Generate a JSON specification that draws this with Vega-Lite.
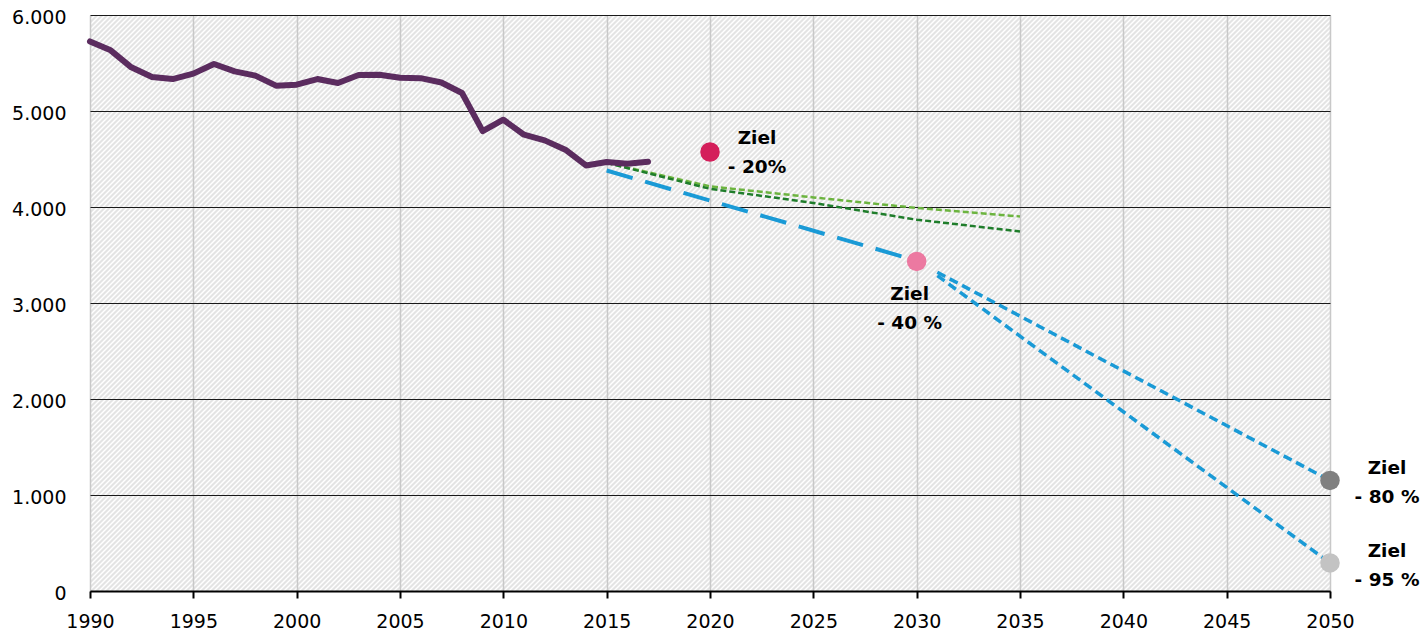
{
"$schema": "https://vega.github.io/schema/vega-lite/v6.json",
"width": 1240, "height": 576,
"autosize": {"type": "none"},
"padding": {"left": 90, "top": 15, "right": 91, "bottom": 42},
"background": "#ffffff",
"config": {
"view": {"stroke": null, "fill": {"gradient": "linear", "x1": 0, "y1": 0, "x2": 1.326646, "y2": 0.616248, "stops": [
{"offset":0.00,"color":"#fff"},{"offset":0.00125,"color":"#ddd"},{"offset":0.0025,"color":"#fff"},{"offset":0.00375,"color":"#ddd"},{"offset":0.005,"color":"#fff"},{"offset":0.00625,"color":"#ddd"},{"offset":0.0075,"color":"#fff"},{"offset":0.00875,"color":"#ddd"},
{"offset":0.01,"color":"#fff"},{"offset":0.01125,"color":"#ddd"},{"offset":0.0125,"color":"#fff"},{"offset":0.01375,"color":"#ddd"},{"offset":0.015,"color":"#fff"},{"offset":0.01625,"color":"#ddd"},{"offset":0.0175,"color":"#fff"},{"offset":0.01875,"color":"#ddd"},
{"offset":0.02,"color":"#fff"},{"offset":0.02125,"color":"#ddd"},{"offset":0.0225,"color":"#fff"},{"offset":0.02375,"color":"#ddd"},{"offset":0.025,"color":"#fff"},{"offset":0.02625,"color":"#ddd"},{"offset":0.0275,"color":"#fff"},{"offset":0.02875,"color":"#ddd"},
{"offset":0.03,"color":"#fff"},{"offset":0.03125,"color":"#ddd"},{"offset":0.0325,"color":"#fff"},{"offset":0.03375,"color":"#ddd"},{"offset":0.035,"color":"#fff"},{"offset":0.03625,"color":"#ddd"},{"offset":0.0375,"color":"#fff"},{"offset":0.03875,"color":"#ddd"},
{"offset":0.04,"color":"#fff"},{"offset":0.04125,"color":"#ddd"},{"offset":0.0425,"color":"#fff"},{"offset":0.04375,"color":"#ddd"},{"offset":0.045,"color":"#fff"},{"offset":0.04625,"color":"#ddd"},{"offset":0.0475,"color":"#fff"},{"offset":0.04875,"color":"#ddd"},
{"offset":0.05,"color":"#fff"},{"offset":0.05125,"color":"#ddd"},{"offset":0.0525,"color":"#fff"},{"offset":0.05375,"color":"#ddd"},{"offset":0.055,"color":"#fff"},{"offset":0.05625,"color":"#ddd"},{"offset":0.0575,"color":"#fff"},{"offset":0.05875,"color":"#ddd"},
{"offset":0.06,"color":"#fff"},{"offset":0.06125,"color":"#ddd"},{"offset":0.0625,"color":"#fff"},{"offset":0.06375,"color":"#ddd"},{"offset":0.065,"color":"#fff"},{"offset":0.06625,"color":"#ddd"},{"offset":0.0675,"color":"#fff"},{"offset":0.06875,"color":"#ddd"},
{"offset":0.07,"color":"#fff"},{"offset":0.07125,"color":"#ddd"},{"offset":0.0725,"color":"#fff"},{"offset":0.07375,"color":"#ddd"},{"offset":0.075,"color":"#fff"},{"offset":0.07625,"color":"#ddd"},{"offset":0.0775,"color":"#fff"},{"offset":0.07875,"color":"#ddd"},
{"offset":0.08,"color":"#fff"},{"offset":0.08125,"color":"#ddd"},{"offset":0.0825,"color":"#fff"},{"offset":0.08375,"color":"#ddd"},{"offset":0.085,"color":"#fff"},{"offset":0.08625,"color":"#ddd"},{"offset":0.0875,"color":"#fff"},{"offset":0.08875,"color":"#ddd"},
{"offset":0.09,"color":"#fff"},{"offset":0.09125,"color":"#ddd"},{"offset":0.0925,"color":"#fff"},{"offset":0.09375,"color":"#ddd"},{"offset":0.095,"color":"#fff"},{"offset":0.09625,"color":"#ddd"},{"offset":0.0975,"color":"#fff"},{"offset":0.09875,"color":"#ddd"},
{"offset":0.10,"color":"#fff"},{"offset":0.10125,"color":"#ddd"},{"offset":0.1025,"color":"#fff"},{"offset":0.10375,"color":"#ddd"},{"offset":0.105,"color":"#fff"},{"offset":0.10625,"color":"#ddd"},{"offset":0.1075,"color":"#fff"},{"offset":0.10875,"color":"#ddd"},
{"offset":0.11,"color":"#fff"},{"offset":0.11125,"color":"#ddd"},{"offset":0.1125,"color":"#fff"},{"offset":0.11375,"color":"#ddd"},{"offset":0.115,"color":"#fff"},{"offset":0.11625,"color":"#ddd"},{"offset":0.1175,"color":"#fff"},{"offset":0.11875,"color":"#ddd"},
{"offset":0.12,"color":"#fff"},{"offset":0.12125,"color":"#ddd"},{"offset":0.1225,"color":"#fff"},{"offset":0.12375,"color":"#ddd"},{"offset":0.125,"color":"#fff"},{"offset":0.12625,"color":"#ddd"},{"offset":0.1275,"color":"#fff"},{"offset":0.12875,"color":"#ddd"},
{"offset":0.13,"color":"#fff"},{"offset":0.13125,"color":"#ddd"},{"offset":0.1325,"color":"#fff"},{"offset":0.13375,"color":"#ddd"},{"offset":0.135,"color":"#fff"},{"offset":0.13625,"color":"#ddd"},{"offset":0.1375,"color":"#fff"},{"offset":0.13875,"color":"#ddd"},
{"offset":0.14,"color":"#fff"},{"offset":0.14125,"color":"#ddd"},{"offset":0.1425,"color":"#fff"},{"offset":0.14375,"color":"#ddd"},{"offset":0.145,"color":"#fff"},{"offset":0.14625,"color":"#ddd"},{"offset":0.1475,"color":"#fff"},{"offset":0.14875,"color":"#ddd"},
{"offset":0.15,"color":"#fff"},{"offset":0.15125,"color":"#ddd"},{"offset":0.1525,"color":"#fff"},{"offset":0.15375,"color":"#ddd"},{"offset":0.155,"color":"#fff"},{"offset":0.15625,"color":"#ddd"},{"offset":0.1575,"color":"#fff"},{"offset":0.15875,"color":"#ddd"},
{"offset":0.16,"color":"#fff"},{"offset":0.16125,"color":"#ddd"},{"offset":0.1625,"color":"#fff"},{"offset":0.16375,"color":"#ddd"},{"offset":0.165,"color":"#fff"},{"offset":0.16625,"color":"#ddd"},{"offset":0.1675,"color":"#fff"},{"offset":0.16875,"color":"#ddd"},
{"offset":0.17,"color":"#fff"},{"offset":0.17125,"color":"#ddd"},{"offset":0.1725,"color":"#fff"},{"offset":0.17375,"color":"#ddd"},{"offset":0.175,"color":"#fff"},{"offset":0.17625,"color":"#ddd"},{"offset":0.1775,"color":"#fff"},{"offset":0.17875,"color":"#ddd"},
{"offset":0.18,"color":"#fff"},{"offset":0.18125,"color":"#ddd"},{"offset":0.1825,"color":"#fff"},{"offset":0.18375,"color":"#ddd"},{"offset":0.185,"color":"#fff"},{"offset":0.18625,"color":"#ddd"},{"offset":0.1875,"color":"#fff"},{"offset":0.18875,"color":"#ddd"},
{"offset":0.19,"color":"#fff"},{"offset":0.19125,"color":"#ddd"},{"offset":0.1925,"color":"#fff"},{"offset":0.19375,"color":"#ddd"},{"offset":0.195,"color":"#fff"},{"offset":0.19625,"color":"#ddd"},{"offset":0.1975,"color":"#fff"},{"offset":0.19875,"color":"#ddd"},
{"offset":0.20,"color":"#fff"},{"offset":0.20125,"color":"#ddd"},{"offset":0.2025,"color":"#fff"},{"offset":0.20375,"color":"#ddd"},{"offset":0.205,"color":"#fff"},{"offset":0.20625,"color":"#ddd"},{"offset":0.2075,"color":"#fff"},{"offset":0.20875,"color":"#ddd"},
{"offset":0.21,"color":"#fff"},{"offset":0.21125,"color":"#ddd"},{"offset":0.2125,"color":"#fff"},{"offset":0.21375,"color":"#ddd"},{"offset":0.215,"color":"#fff"},{"offset":0.21625,"color":"#ddd"},{"offset":0.2175,"color":"#fff"},{"offset":0.21875,"color":"#ddd"},
{"offset":0.22,"color":"#fff"},{"offset":0.22125,"color":"#ddd"},{"offset":0.2225,"color":"#fff"},{"offset":0.22375,"color":"#ddd"},{"offset":0.225,"color":"#fff"},{"offset":0.22625,"color":"#ddd"},{"offset":0.2275,"color":"#fff"},{"offset":0.22875,"color":"#ddd"},
{"offset":0.23,"color":"#fff"},{"offset":0.23125,"color":"#ddd"},{"offset":0.2325,"color":"#fff"},{"offset":0.23375,"color":"#ddd"},{"offset":0.235,"color":"#fff"},{"offset":0.23625,"color":"#ddd"},{"offset":0.2375,"color":"#fff"},{"offset":0.23875,"color":"#ddd"},
{"offset":0.24,"color":"#fff"},{"offset":0.24125,"color":"#ddd"},{"offset":0.2425,"color":"#fff"},{"offset":0.24375,"color":"#ddd"},{"offset":0.245,"color":"#fff"},{"offset":0.24625,"color":"#ddd"},{"offset":0.2475,"color":"#fff"},{"offset":0.24875,"color":"#ddd"},
{"offset":0.25,"color":"#fff"},{"offset":0.25125,"color":"#ddd"},{"offset":0.2525,"color":"#fff"},{"offset":0.25375,"color":"#ddd"},{"offset":0.255,"color":"#fff"},{"offset":0.25625,"color":"#ddd"},{"offset":0.2575,"color":"#fff"},{"offset":0.25875,"color":"#ddd"},
{"offset":0.26,"color":"#fff"},{"offset":0.26125,"color":"#ddd"},{"offset":0.2625,"color":"#fff"},{"offset":0.26375,"color":"#ddd"},{"offset":0.265,"color":"#fff"},{"offset":0.26625,"color":"#ddd"},{"offset":0.2675,"color":"#fff"},{"offset":0.26875,"color":"#ddd"},
{"offset":0.27,"color":"#fff"},{"offset":0.27125,"color":"#ddd"},{"offset":0.2725,"color":"#fff"},{"offset":0.27375,"color":"#ddd"},{"offset":0.275,"color":"#fff"},{"offset":0.27625,"color":"#ddd"},{"offset":0.2775,"color":"#fff"},{"offset":0.27875,"color":"#ddd"},
{"offset":0.28,"color":"#fff"},{"offset":0.28125,"color":"#ddd"},{"offset":0.2825,"color":"#fff"},{"offset":0.28375,"color":"#ddd"},{"offset":0.285,"color":"#fff"},{"offset":0.28625,"color":"#ddd"},{"offset":0.2875,"color":"#fff"},{"offset":0.28875,"color":"#ddd"},
{"offset":0.29,"color":"#fff"},{"offset":0.29125,"color":"#ddd"},{"offset":0.2925,"color":"#fff"},{"offset":0.29375,"color":"#ddd"},{"offset":0.295,"color":"#fff"},{"offset":0.29625,"color":"#ddd"},{"offset":0.2975,"color":"#fff"},{"offset":0.29875,"color":"#ddd"},
{"offset":0.30,"color":"#fff"},{"offset":0.30125,"color":"#ddd"},{"offset":0.3025,"color":"#fff"},{"offset":0.30375,"color":"#ddd"},{"offset":0.305,"color":"#fff"},{"offset":0.30625,"color":"#ddd"},{"offset":0.3075,"color":"#fff"},{"offset":0.30875,"color":"#ddd"},
{"offset":0.31,"color":"#fff"},{"offset":0.31125,"color":"#ddd"},{"offset":0.3125,"color":"#fff"},{"offset":0.31375,"color":"#ddd"},{"offset":0.315,"color":"#fff"},{"offset":0.31625,"color":"#ddd"},{"offset":0.3175,"color":"#fff"},{"offset":0.31875,"color":"#ddd"},
{"offset":0.32,"color":"#fff"},{"offset":0.32125,"color":"#ddd"},{"offset":0.3225,"color":"#fff"},{"offset":0.32375,"color":"#ddd"},{"offset":0.325,"color":"#fff"},{"offset":0.32625,"color":"#ddd"},{"offset":0.3275,"color":"#fff"},{"offset":0.32875,"color":"#ddd"},
{"offset":0.33,"color":"#fff"},{"offset":0.33125,"color":"#ddd"},{"offset":0.3325,"color":"#fff"},{"offset":0.33375,"color":"#ddd"},{"offset":0.335,"color":"#fff"},{"offset":0.33625,"color":"#ddd"},{"offset":0.3375,"color":"#fff"},{"offset":0.33875,"color":"#ddd"},
{"offset":0.34,"color":"#fff"},{"offset":0.34125,"color":"#ddd"},{"offset":0.3425,"color":"#fff"},{"offset":0.34375,"color":"#ddd"},{"offset":0.345,"color":"#fff"},{"offset":0.34625,"color":"#ddd"},{"offset":0.3475,"color":"#fff"},{"offset":0.34875,"color":"#ddd"},
{"offset":0.35,"color":"#fff"},{"offset":0.35125,"color":"#ddd"},{"offset":0.3525,"color":"#fff"},{"offset":0.35375,"color":"#ddd"},{"offset":0.355,"color":"#fff"},{"offset":0.35625,"color":"#ddd"},{"offset":0.3575,"color":"#fff"},{"offset":0.35875,"color":"#ddd"},
{"offset":0.36,"color":"#fff"},{"offset":0.36125,"color":"#ddd"},{"offset":0.3625,"color":"#fff"},{"offset":0.36375,"color":"#ddd"},{"offset":0.365,"color":"#fff"},{"offset":0.36625,"color":"#ddd"},{"offset":0.3675,"color":"#fff"},{"offset":0.36875,"color":"#ddd"},
{"offset":0.37,"color":"#fff"},{"offset":0.37125,"color":"#ddd"},{"offset":0.3725,"color":"#fff"},{"offset":0.37375,"color":"#ddd"},{"offset":0.375,"color":"#fff"},{"offset":0.37625,"color":"#ddd"},{"offset":0.3775,"color":"#fff"},{"offset":0.37875,"color":"#ddd"},
{"offset":0.38,"color":"#fff"},{"offset":0.38125,"color":"#ddd"},{"offset":0.3825,"color":"#fff"},{"offset":0.38375,"color":"#ddd"},{"offset":0.385,"color":"#fff"},{"offset":0.38625,"color":"#ddd"},{"offset":0.3875,"color":"#fff"},{"offset":0.38875,"color":"#ddd"},
{"offset":0.39,"color":"#fff"},{"offset":0.39125,"color":"#ddd"},{"offset":0.3925,"color":"#fff"},{"offset":0.39375,"color":"#ddd"},{"offset":0.395,"color":"#fff"},{"offset":0.39625,"color":"#ddd"},{"offset":0.3975,"color":"#fff"},{"offset":0.39875,"color":"#ddd"},
{"offset":0.40,"color":"#fff"},{"offset":0.40125,"color":"#ddd"},{"offset":0.4025,"color":"#fff"},{"offset":0.40375,"color":"#ddd"},{"offset":0.405,"color":"#fff"},{"offset":0.40625,"color":"#ddd"},{"offset":0.4075,"color":"#fff"},{"offset":0.40875,"color":"#ddd"},
{"offset":0.41,"color":"#fff"},{"offset":0.41125,"color":"#ddd"},{"offset":0.4125,"color":"#fff"},{"offset":0.41375,"color":"#ddd"},{"offset":0.415,"color":"#fff"},{"offset":0.41625,"color":"#ddd"},{"offset":0.4175,"color":"#fff"},{"offset":0.41875,"color":"#ddd"},
{"offset":0.42,"color":"#fff"},{"offset":0.42125,"color":"#ddd"},{"offset":0.4225,"color":"#fff"},{"offset":0.42375,"color":"#ddd"},{"offset":0.425,"color":"#fff"},{"offset":0.42625,"color":"#ddd"},{"offset":0.4275,"color":"#fff"},{"offset":0.42875,"color":"#ddd"},
{"offset":0.43,"color":"#fff"},{"offset":0.43125,"color":"#ddd"},{"offset":0.4325,"color":"#fff"},{"offset":0.43375,"color":"#ddd"},{"offset":0.435,"color":"#fff"},{"offset":0.43625,"color":"#ddd"},{"offset":0.4375,"color":"#fff"},{"offset":0.43875,"color":"#ddd"},
{"offset":0.44,"color":"#fff"},{"offset":0.44125,"color":"#ddd"},{"offset":0.4425,"color":"#fff"},{"offset":0.44375,"color":"#ddd"},{"offset":0.445,"color":"#fff"},{"offset":0.44625,"color":"#ddd"},{"offset":0.4475,"color":"#fff"},{"offset":0.44875,"color":"#ddd"},
{"offset":0.45,"color":"#fff"},{"offset":0.45125,"color":"#ddd"},{"offset":0.4525,"color":"#fff"},{"offset":0.45375,"color":"#ddd"},{"offset":0.455,"color":"#fff"},{"offset":0.45625,"color":"#ddd"},{"offset":0.4575,"color":"#fff"},{"offset":0.45875,"color":"#ddd"},
{"offset":0.46,"color":"#fff"},{"offset":0.46125,"color":"#ddd"},{"offset":0.4625,"color":"#fff"},{"offset":0.46375,"color":"#ddd"},{"offset":0.465,"color":"#fff"},{"offset":0.46625,"color":"#ddd"},{"offset":0.4675,"color":"#fff"},{"offset":0.46875,"color":"#ddd"},
{"offset":0.47,"color":"#fff"},{"offset":0.47125,"color":"#ddd"},{"offset":0.4725,"color":"#fff"},{"offset":0.47375,"color":"#ddd"},{"offset":0.475,"color":"#fff"},{"offset":0.47625,"color":"#ddd"},{"offset":0.4775,"color":"#fff"},{"offset":0.47875,"color":"#ddd"},
{"offset":0.48,"color":"#fff"},{"offset":0.48125,"color":"#ddd"},{"offset":0.4825,"color":"#fff"},{"offset":0.48375,"color":"#ddd"},{"offset":0.485,"color":"#fff"},{"offset":0.48625,"color":"#ddd"},{"offset":0.4875,"color":"#fff"},{"offset":0.48875,"color":"#ddd"},
{"offset":0.49,"color":"#fff"},{"offset":0.49125,"color":"#ddd"},{"offset":0.4925,"color":"#fff"},{"offset":0.49375,"color":"#ddd"},{"offset":0.495,"color":"#fff"},{"offset":0.49625,"color":"#ddd"},{"offset":0.4975,"color":"#fff"},{"offset":0.49875,"color":"#ddd"},
{"offset":0.50,"color":"#fff"},{"offset":0.50125,"color":"#ddd"},{"offset":0.5025,"color":"#fff"},{"offset":0.50375,"color":"#ddd"},{"offset":0.505,"color":"#fff"},{"offset":0.50625,"color":"#ddd"},{"offset":0.5075,"color":"#fff"},{"offset":0.50875,"color":"#ddd"},
{"offset":0.51,"color":"#fff"},{"offset":0.51125,"color":"#ddd"},{"offset":0.5125,"color":"#fff"},{"offset":0.51375,"color":"#ddd"},{"offset":0.515,"color":"#fff"},{"offset":0.51625,"color":"#ddd"},{"offset":0.5175,"color":"#fff"},{"offset":0.51875,"color":"#ddd"},
{"offset":0.52,"color":"#fff"},{"offset":0.52125,"color":"#ddd"},{"offset":0.5225,"color":"#fff"},{"offset":0.52375,"color":"#ddd"},{"offset":0.525,"color":"#fff"},{"offset":0.52625,"color":"#ddd"},{"offset":0.5275,"color":"#fff"},{"offset":0.52875,"color":"#ddd"},
{"offset":0.53,"color":"#fff"},{"offset":0.53125,"color":"#ddd"},{"offset":0.5325,"color":"#fff"},{"offset":0.53375,"color":"#ddd"},{"offset":0.535,"color":"#fff"},{"offset":0.53625,"color":"#ddd"},{"offset":0.5375,"color":"#fff"},{"offset":0.53875,"color":"#ddd"},
{"offset":0.54,"color":"#fff"},{"offset":0.54125,"color":"#ddd"},{"offset":0.5425,"color":"#fff"},{"offset":0.54375,"color":"#ddd"},{"offset":0.545,"color":"#fff"},{"offset":0.54625,"color":"#ddd"},{"offset":0.5475,"color":"#fff"},{"offset":0.54875,"color":"#ddd"},
{"offset":0.55,"color":"#fff"},{"offset":0.55125,"color":"#ddd"},{"offset":0.5525,"color":"#fff"},{"offset":0.55375,"color":"#ddd"},{"offset":0.555,"color":"#fff"},{"offset":0.55625,"color":"#ddd"},{"offset":0.5575,"color":"#fff"},{"offset":0.55875,"color":"#ddd"},
{"offset":0.56,"color":"#fff"},{"offset":0.56125,"color":"#ddd"},{"offset":0.5625,"color":"#fff"},{"offset":0.56375,"color":"#ddd"},{"offset":0.565,"color":"#fff"},{"offset":0.56625,"color":"#ddd"},{"offset":0.5675,"color":"#fff"},{"offset":0.56875,"color":"#ddd"},
{"offset":0.57,"color":"#fff"},{"offset":0.57125,"color":"#ddd"},{"offset":0.5725,"color":"#fff"},{"offset":0.57375,"color":"#ddd"},{"offset":0.575,"color":"#fff"},{"offset":0.57625,"color":"#ddd"},{"offset":0.5775,"color":"#fff"},{"offset":0.57875,"color":"#ddd"},
{"offset":0.58,"color":"#fff"},{"offset":0.58125,"color":"#ddd"},{"offset":0.5825,"color":"#fff"},{"offset":0.58375,"color":"#ddd"},{"offset":0.585,"color":"#fff"},{"offset":0.58625,"color":"#ddd"},{"offset":0.5875,"color":"#fff"},{"offset":0.58875,"color":"#ddd"},
{"offset":0.59,"color":"#fff"},{"offset":0.59125,"color":"#ddd"},{"offset":0.5925,"color":"#fff"},{"offset":0.59375,"color":"#ddd"},{"offset":0.595,"color":"#fff"},{"offset":0.59625,"color":"#ddd"},{"offset":0.5975,"color":"#fff"},{"offset":0.59875,"color":"#ddd"},
{"offset":0.60,"color":"#fff"},{"offset":0.60125,"color":"#ddd"},{"offset":0.6025,"color":"#fff"},{"offset":0.60375,"color":"#ddd"},{"offset":0.605,"color":"#fff"},{"offset":0.60625,"color":"#ddd"},{"offset":0.6075,"color":"#fff"},{"offset":0.60875,"color":"#ddd"},
{"offset":0.61,"color":"#fff"},{"offset":0.61125,"color":"#ddd"},{"offset":0.6125,"color":"#fff"},{"offset":0.61375,"color":"#ddd"},{"offset":0.615,"color":"#fff"},{"offset":0.61625,"color":"#ddd"},{"offset":0.6175,"color":"#fff"},{"offset":0.61875,"color":"#ddd"},
{"offset":0.62,"color":"#fff"},{"offset":0.62125,"color":"#ddd"},{"offset":0.6225,"color":"#fff"},{"offset":0.62375,"color":"#ddd"},{"offset":0.625,"color":"#fff"},{"offset":0.62625,"color":"#ddd"},{"offset":0.6275,"color":"#fff"},{"offset":0.62875,"color":"#ddd"},
{"offset":0.63,"color":"#fff"},{"offset":0.63125,"color":"#ddd"},{"offset":0.6325,"color":"#fff"},{"offset":0.63375,"color":"#ddd"},{"offset":0.635,"color":"#fff"},{"offset":0.63625,"color":"#ddd"},{"offset":0.6375,"color":"#fff"},{"offset":0.63875,"color":"#ddd"},
{"offset":0.64,"color":"#fff"},{"offset":0.64125,"color":"#ddd"},{"offset":0.6425,"color":"#fff"},{"offset":0.64375,"color":"#ddd"},{"offset":0.645,"color":"#fff"},{"offset":0.64625,"color":"#ddd"},{"offset":0.6475,"color":"#fff"},{"offset":0.64875,"color":"#ddd"},
{"offset":0.65,"color":"#fff"},{"offset":0.65125,"color":"#ddd"},{"offset":0.6525,"color":"#fff"},{"offset":0.65375,"color":"#ddd"},{"offset":0.655,"color":"#fff"},{"offset":0.65625,"color":"#ddd"},{"offset":0.6575,"color":"#fff"},{"offset":0.65875,"color":"#ddd"},
{"offset":0.66,"color":"#fff"},{"offset":0.66125,"color":"#ddd"},{"offset":0.6625,"color":"#fff"},{"offset":0.66375,"color":"#ddd"},{"offset":0.665,"color":"#fff"},{"offset":0.66625,"color":"#ddd"},{"offset":0.6675,"color":"#fff"},{"offset":0.66875,"color":"#ddd"},
{"offset":0.67,"color":"#fff"},{"offset":0.67125,"color":"#ddd"},{"offset":0.6725,"color":"#fff"},{"offset":0.67375,"color":"#ddd"},{"offset":0.675,"color":"#fff"},{"offset":0.67625,"color":"#ddd"},{"offset":0.6775,"color":"#fff"},{"offset":0.67875,"color":"#ddd"},
{"offset":0.68,"color":"#fff"},{"offset":0.68125,"color":"#ddd"},{"offset":0.6825,"color":"#fff"},{"offset":0.68375,"color":"#ddd"},{"offset":0.685,"color":"#fff"},{"offset":0.68625,"color":"#ddd"},{"offset":0.6875,"color":"#fff"},{"offset":0.68875,"color":"#ddd"},
{"offset":0.69,"color":"#fff"},{"offset":0.69125,"color":"#ddd"},{"offset":0.6925,"color":"#fff"},{"offset":0.69375,"color":"#ddd"},{"offset":0.695,"color":"#fff"},{"offset":0.69625,"color":"#ddd"},{"offset":0.6975,"color":"#fff"},{"offset":0.69875,"color":"#ddd"},
{"offset":0.70,"color":"#fff"},{"offset":0.70125,"color":"#ddd"},{"offset":0.7025,"color":"#fff"},{"offset":0.70375,"color":"#ddd"},{"offset":0.705,"color":"#fff"},{"offset":0.70625,"color":"#ddd"},{"offset":0.7075,"color":"#fff"},{"offset":0.70875,"color":"#ddd"},
{"offset":0.71,"color":"#fff"},{"offset":0.71125,"color":"#ddd"},{"offset":0.7125,"color":"#fff"},{"offset":0.71375,"color":"#ddd"},{"offset":0.715,"color":"#fff"},{"offset":0.71625,"color":"#ddd"},{"offset":0.7175,"color":"#fff"},{"offset":0.71875,"color":"#ddd"},
{"offset":0.72,"color":"#fff"},{"offset":0.72125,"color":"#ddd"},{"offset":0.7225,"color":"#fff"},{"offset":0.72375,"color":"#ddd"},{"offset":0.725,"color":"#fff"},{"offset":0.72625,"color":"#ddd"},{"offset":0.7275,"color":"#fff"},{"offset":0.72875,"color":"#ddd"},
{"offset":0.73,"color":"#fff"},{"offset":0.73125,"color":"#ddd"},{"offset":0.7325,"color":"#fff"},{"offset":0.73375,"color":"#ddd"},{"offset":0.735,"color":"#fff"},{"offset":0.73625,"color":"#ddd"},{"offset":0.7375,"color":"#fff"},{"offset":0.73875,"color":"#ddd"},
{"offset":0.74,"color":"#fff"},{"offset":0.74125,"color":"#ddd"},{"offset":0.7425,"color":"#fff"},{"offset":0.74375,"color":"#ddd"},{"offset":0.745,"color":"#fff"},{"offset":0.74625,"color":"#ddd"},{"offset":0.7475,"color":"#fff"},{"offset":0.74875,"color":"#ddd"},
{"offset":0.75,"color":"#fff"},{"offset":0.75125,"color":"#ddd"},{"offset":0.7525,"color":"#fff"},{"offset":0.75375,"color":"#ddd"},{"offset":0.755,"color":"#fff"},{"offset":0.75625,"color":"#ddd"},{"offset":0.7575,"color":"#fff"},{"offset":0.75875,"color":"#ddd"},
{"offset":0.76,"color":"#fff"},{"offset":0.76125,"color":"#ddd"},{"offset":0.7625,"color":"#fff"},{"offset":0.76375,"color":"#ddd"},{"offset":0.765,"color":"#fff"},{"offset":0.76625,"color":"#ddd"},{"offset":0.7675,"color":"#fff"},{"offset":0.76875,"color":"#ddd"},
{"offset":0.77,"color":"#fff"},{"offset":0.77125,"color":"#ddd"},{"offset":0.7725,"color":"#fff"},{"offset":0.77375,"color":"#ddd"},{"offset":0.775,"color":"#fff"},{"offset":0.77625,"color":"#ddd"},{"offset":0.7775,"color":"#fff"},{"offset":0.77875,"color":"#ddd"},
{"offset":0.78,"color":"#fff"},{"offset":0.78125,"color":"#ddd"},{"offset":0.7825,"color":"#fff"},{"offset":0.78375,"color":"#ddd"},{"offset":0.785,"color":"#fff"},{"offset":0.78625,"color":"#ddd"},{"offset":0.7875,"color":"#fff"},{"offset":0.78875,"color":"#ddd"},
{"offset":0.79,"color":"#fff"},{"offset":0.79125,"color":"#ddd"},{"offset":0.7925,"color":"#fff"},{"offset":0.79375,"color":"#ddd"},{"offset":0.795,"color":"#fff"},{"offset":0.79625,"color":"#ddd"},{"offset":0.7975,"color":"#fff"},{"offset":0.79875,"color":"#ddd"},
{"offset":0.80,"color":"#fff"},{"offset":0.80125,"color":"#ddd"},{"offset":0.8025,"color":"#fff"},{"offset":0.80375,"color":"#ddd"},{"offset":0.805,"color":"#fff"},{"offset":0.80625,"color":"#ddd"},{"offset":0.8075,"color":"#fff"},{"offset":0.80875,"color":"#ddd"},
{"offset":0.81,"color":"#fff"},{"offset":0.81125,"color":"#ddd"},{"offset":0.8125,"color":"#fff"},{"offset":0.81375,"color":"#ddd"},{"offset":0.815,"color":"#fff"},{"offset":0.81625,"color":"#ddd"},{"offset":0.8175,"color":"#fff"},{"offset":0.81875,"color":"#ddd"},
{"offset":0.82,"color":"#fff"},{"offset":0.82125,"color":"#ddd"},{"offset":0.8225,"color":"#fff"},{"offset":0.82375,"color":"#ddd"},{"offset":0.825,"color":"#fff"},{"offset":0.82625,"color":"#ddd"},{"offset":0.8275,"color":"#fff"},{"offset":0.82875,"color":"#ddd"},
{"offset":0.83,"color":"#fff"},{"offset":0.83125,"color":"#ddd"},{"offset":0.8325,"color":"#fff"},{"offset":0.83375,"color":"#ddd"},{"offset":0.835,"color":"#fff"},{"offset":0.83625,"color":"#ddd"},{"offset":0.8375,"color":"#fff"},{"offset":0.83875,"color":"#ddd"},
{"offset":0.84,"color":"#fff"},{"offset":0.84125,"color":"#ddd"},{"offset":0.8425,"color":"#fff"},{"offset":0.84375,"color":"#ddd"},{"offset":0.845,"color":"#fff"},{"offset":0.84625,"color":"#ddd"},{"offset":0.8475,"color":"#fff"},{"offset":0.84875,"color":"#ddd"},
{"offset":0.85,"color":"#fff"},{"offset":0.85125,"color":"#ddd"},{"offset":0.8525,"color":"#fff"},{"offset":0.85375,"color":"#ddd"},{"offset":0.855,"color":"#fff"},{"offset":0.85625,"color":"#ddd"},{"offset":0.8575,"color":"#fff"},{"offset":0.85875,"color":"#ddd"},
{"offset":0.86,"color":"#fff"},{"offset":0.86125,"color":"#ddd"},{"offset":0.8625,"color":"#fff"},{"offset":0.86375,"color":"#ddd"},{"offset":0.865,"color":"#fff"},{"offset":0.86625,"color":"#ddd"},{"offset":0.8675,"color":"#fff"},{"offset":0.86875,"color":"#ddd"},
{"offset":0.87,"color":"#fff"},{"offset":0.87125,"color":"#ddd"},{"offset":0.8725,"color":"#fff"},{"offset":0.87375,"color":"#ddd"},{"offset":0.875,"color":"#fff"},{"offset":0.87625,"color":"#ddd"},{"offset":0.8775,"color":"#fff"},{"offset":0.87875,"color":"#ddd"},
{"offset":0.88,"color":"#fff"},{"offset":0.88125,"color":"#ddd"},{"offset":0.8825,"color":"#fff"},{"offset":0.88375,"color":"#ddd"},{"offset":0.885,"color":"#fff"},{"offset":0.88625,"color":"#ddd"},{"offset":0.8875,"color":"#fff"},{"offset":0.88875,"color":"#ddd"},
{"offset":0.89,"color":"#fff"},{"offset":0.89125,"color":"#ddd"},{"offset":0.8925,"color":"#fff"},{"offset":0.89375,"color":"#ddd"},{"offset":0.895,"color":"#fff"},{"offset":0.89625,"color":"#ddd"},{"offset":0.8975,"color":"#fff"},{"offset":0.89875,"color":"#ddd"},
{"offset":0.90,"color":"#fff"},{"offset":0.90125,"color":"#ddd"},{"offset":0.9025,"color":"#fff"},{"offset":0.90375,"color":"#ddd"},{"offset":0.905,"color":"#fff"},{"offset":0.90625,"color":"#ddd"},{"offset":0.9075,"color":"#fff"},{"offset":0.90875,"color":"#ddd"}
]}},
"axis": {"labelFont": "DejaVu Sans", "labelFontSize": 19, "labelColor": "#000000", "title": null}
},
"data": {"values": [
{"series":"hist","year":1990,"value":5725},{"series":"hist","year":1991,"value":5632},{"series":"hist","year":1992,"value":5455},{"series":"hist","year":1993,"value":5355},{"series":"hist","year":1994,"value":5333},{"series":"hist","year":1995,"value":5389},{"series":"hist","year":1996,"value":5490},{"series":"hist","year":1997,"value":5413},{"series":"hist","year":1998,"value":5368},{"series":"hist","year":1999,"value":5264},{"series":"hist","year":2000,"value":5274},{"series":"hist","year":2001,"value":5333},{"series":"hist","year":2002,"value":5292},{"series":"hist","year":2003,"value":5375},{"series":"hist","year":2004,"value":5377},{"series":"hist","year":2005,"value":5347},{"series":"hist","year":2006,"value":5342},{"series":"hist","year":2007,"value":5297},{"series":"hist","year":2008,"value":5188},{"series":"hist","year":2009,"value":4790},{"series":"hist","year":2010,"value":4909},{"series":"hist","year":2011,"value":4753},{"series":"hist","year":2012,"value":4694},{"series":"hist","year":2013,"value":4597},{"series":"hist","year":2014,"value":4433},{"series":"hist","year":2015,"value":4469},{"series":"hist","year":2016,"value":4451},{"series":"hist","year":2017,"value":4472},
{"series":"light","year":2015,"value":4460},{"series":"light","year":2020,"value":4215},{"series":"light","year":2025,"value":4100},{"series":"light","year":2030,"value":3990},{"series":"light","year":2035,"value":3902},
{"series":"dark","year":2015,"value":4460},{"series":"dark","year":2020,"value":4190},{"series":"dark","year":2025,"value":4042},{"series":"dark","year":2030,"value":3868},{"series":"dark","year":2035,"value":3746},
{"series":"path40","year":2015,"value":4380},{"series":"path40","year":2030,"value":3440},
{"series":"path80","year":2031,"value":3320},{"series":"path80","year":2050,"value":1152},
{"series":"path95","year":2031,"value":3285},{"series":"path95","year":2050,"value":292},
{"series":"target","year":2020,"value":4573,"label":"Ziel\n- 20%"},
{"series":"target","year":2030,"value":3433,"label":"Ziel\n- 40 %"},
{"series":"target","year":2050,"value":1152,"label":"Ziel\n- 80 %"},
{"series":"target","year":2050,"value":292,"label":"Ziel\n- 95 %"}
]},
"encoding": {
"x": {"field": "year", "type": "quantitative", "scale": {"domain": [1990, 2050], "nice": false, "zero": false},
 "axis": {"values": [1990,1995,2000,2005,2010,2015,2020,2025,2030,2035,2040,2045,2050], "format": "d", "grid": true, "gridColor": "#c8c8c8", "gridWidth": 1.5, "domainColor": "#000000", "domainWidth": 2, "tickColor": "#000000", "tickWidth": 2, "tickSize": 7, "labelPadding": 14, "labelFlush": false, "labelOverlap": false}},
"y": {"field": "value", "type": "quantitative", "scale": {"domain": [0, 6000], "nice": false},
 "axis": {"values": [0,1000,2000,3000,4000,5000,6000], "labelExpr": "replace(format(datum.value, ','), ',', '.')", "grid": true, "gridColor": "#1a1a1a", "gridWidth": 1, "domain": false, "ticks": false, "labelPadding": 24, "labelOffset": 2}}
},
"layer": [
{"transform": [{"filter": "datum.series === 'light'"}], "mark": {"type": "line", "color": "#6cb43f", "strokeWidth": 2.5, "strokeDash": [6, 3]}},
{"transform": [{"filter": "datum.series === 'dark'"}], "mark": {"type": "line", "color": "#1f7d2b", "strokeWidth": 2.5, "strokeDash": [6, 3]}},
{"transform": [{"filter": "datum.series === 'path40'"}], "mark": {"type": "line", "color": "#1a9ad6", "strokeWidth": 4, "strokeDash": [27, 13]}},
{"transform": [{"filter": "datum.series === 'path80' || datum.series === 'path95'"}], "mark": {"type": "line", "color": "#1a9ad6", "strokeWidth": 3.5, "strokeDash": [9, 5]}, "encoding": {"detail": {"field": "series"}}},
{"transform": [{"filter": "datum.series === 'hist'"}], "mark": {"type": "line", "color": "#5b2c5f", "strokeWidth": 6, "strokeJoin": "round", "strokeCap": "round"}},
{"transform": [{"filter": "datum.series === 'target'"}], "mark": {"type": "circle", "size": 380, "opacity": 1},
 "encoding": {"color": {"field": "label", "type": "nominal", "scale": {"domain": ["Ziel\n- 20%", "Ziel\n- 40 %", "Ziel\n- 80 %", "Ziel\n- 95 %"], "range": ["#d41f5b", "#ec79a1", "#808080", "#c3c3c3"]}, "legend": null}}},
{"transform": [{"filter": "datum.series === 'target' && datum.year === 2020"}], "mark": {"type": "text", "font": "DejaVu Sans", "fontWeight": "bold", "fontSize": 18.5, "color": "#000000", "align": "center", "baseline": "middle", "lineBreak": "\n", "lineHeight": 29, "dx": 47, "dy": -14}, "encoding": {"text": {"field": "label"}}},
{"transform": [{"filter": "datum.series === 'target' && datum.year === 2030"}], "mark": {"type": "text", "font": "DejaVu Sans", "fontWeight": "bold", "fontSize": 18.5, "color": "#000000", "align": "center", "baseline": "middle", "lineBreak": "\n", "lineHeight": 29, "dx": -7, "dy": 33}, "encoding": {"text": {"field": "label"}}},
{"transform": [{"filter": "datum.series === 'target' && datum.year === 2050"}], "mark": {"type": "text", "font": "DejaVu Sans", "fontWeight": "bold", "fontSize": 18.5, "color": "#000000", "align": "center", "baseline": "middle", "lineBreak": "\n", "lineHeight": 29, "dx": 57, "dy": -12}, "encoding": {"text": {"field": "label"}}}
]
}
